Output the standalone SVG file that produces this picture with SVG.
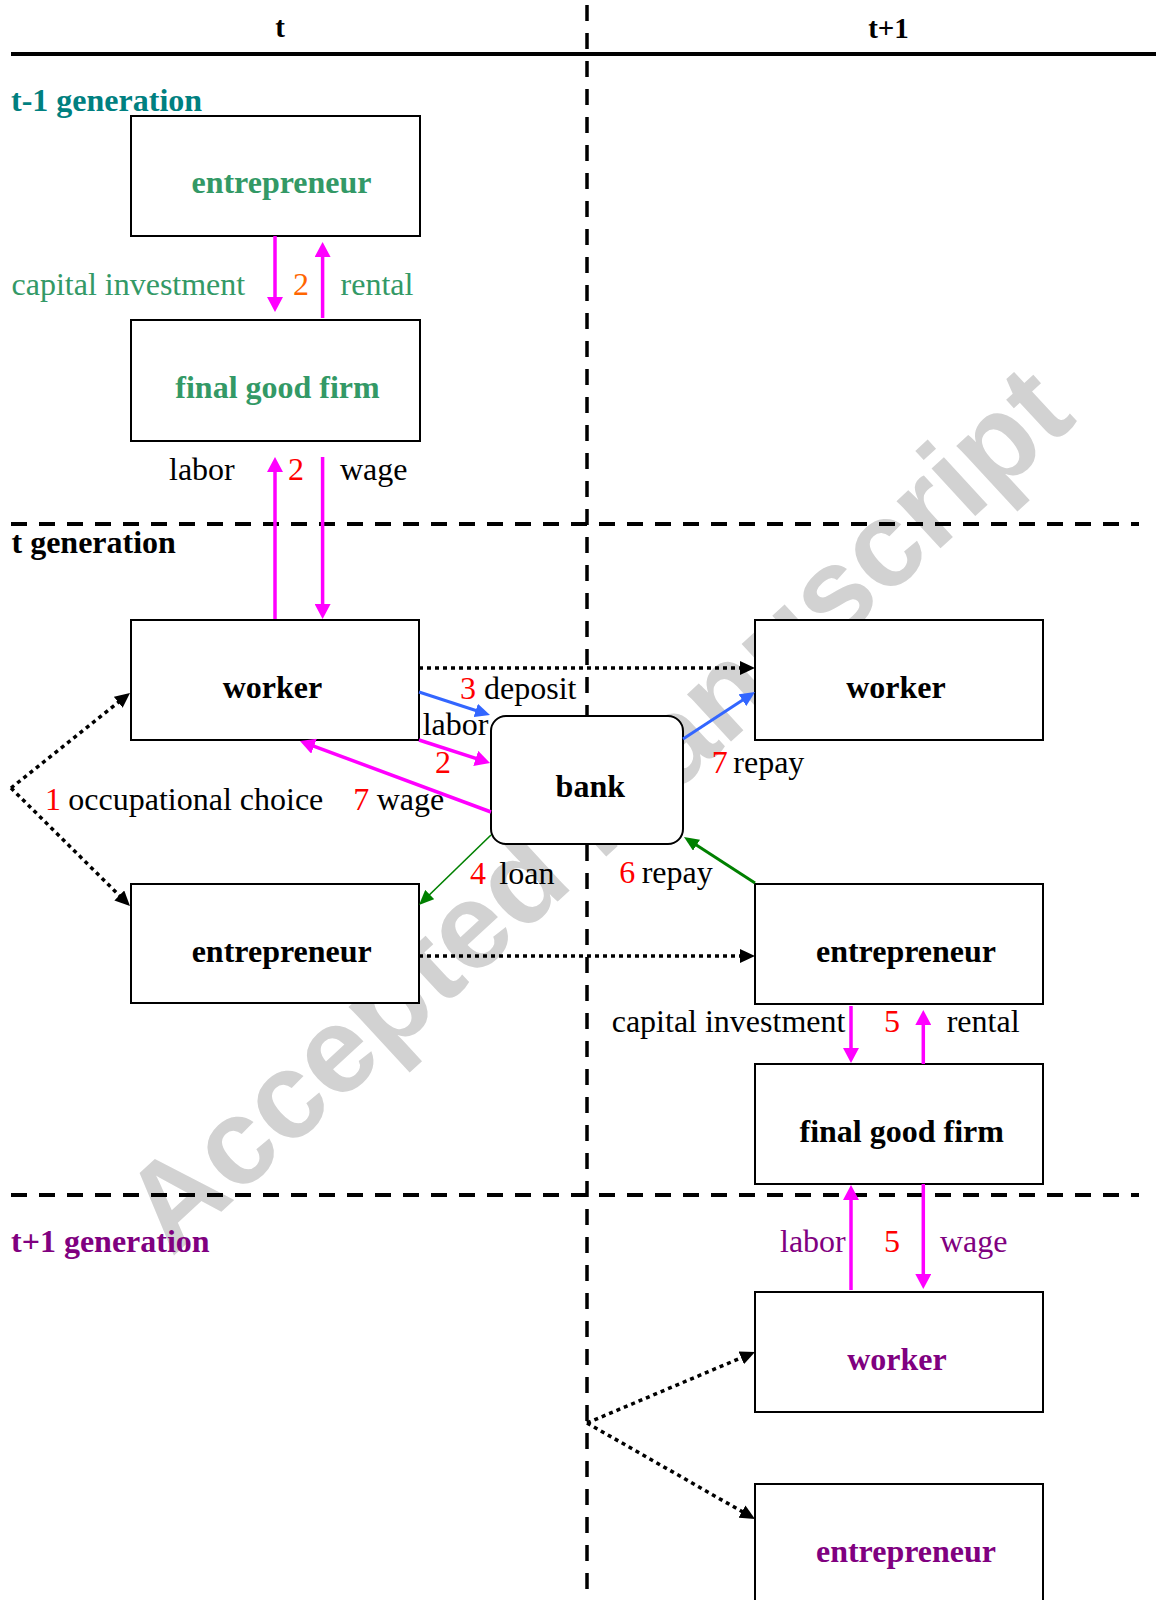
<svg xmlns="http://www.w3.org/2000/svg" width="1156" height="1600" viewBox="0 0 1156 1600">
<style>
text{font-family:"Liberation Serif","Times New Roman",serif;font-size:32px;fill:#000}
.b{font-weight:bold}
.m{text-anchor:middle}
.hdr{font-size:29px;font-weight:bold;text-anchor:middle}
.g{fill:#339966}
.teal{fill:#008080}
.pur{fill:#800080}
.red{fill:#ff0000}
.org{fill:#ff6600}
.box{fill:#fff;stroke:#000;stroke-width:2}
.dash{fill:none;stroke:#000;stroke-width:4;stroke-dasharray:16 12}
.vdash{fill:none;stroke:#000;stroke-width:3.5;stroke-dasharray:16 12}
.mag{fill:none;stroke:#ff00ff;stroke-width:3.5;marker-end:url(#am)}
.blu{fill:none;stroke:#3366ff;stroke-width:3;marker-end:url(#ab)}
.grn{fill:none;stroke:#008000;stroke-width:3;marker-end:url(#ag)}
.grnt{fill:none;stroke:#008000;stroke-width:1.6;marker-end:url(#ag)}
.dot{fill:none;stroke:#000;stroke-width:3.5;stroke-dasharray:4 4;marker-end:url(#ak)}
.wm{font-family:"Liberation Sans",Arial,sans-serif;font-weight:bold;font-size:122px;fill:#d2d2d2}
</style>
<defs>
<marker id="am" markerUnits="userSpaceOnUse" markerWidth="16" markerHeight="16" refX="9" refY="8" orient="auto"><path d="M0,0 L15,8 L0,16 z" fill="#ff00ff"/></marker>
<marker id="ab" markerUnits="userSpaceOnUse" markerWidth="16" markerHeight="14" refX="9" refY="7" orient="auto"><path d="M0,0 L15,7 L0,14 z" fill="#3366ff"/></marker>
<marker id="ag" markerUnits="userSpaceOnUse" markerWidth="16" markerHeight="13" refX="9" refY="6.5" orient="auto"><path d="M0,0 L15,6.5 L0,13 z" fill="#008000"/></marker>
<marker id="ak" markerUnits="userSpaceOnUse" markerWidth="16" markerHeight="14" refX="9" refY="7" orient="auto"><path d="M0,0 L15,7 L0,14 z" fill="#000"/></marker>
</defs>

<g id="watermark">
<text class="wm" transform="translate(171.8,1257.5) rotate(-42.7)">Accepted Manuscript</text>
</g>

<g id="grid">
<line x1="11" y1="54" x2="1156" y2="54" stroke="#000" stroke-width="4"/>
<line class="vdash" x1="587" y1="5" x2="587" y2="1592"/>
<line class="dash" x1="11" y1="524" x2="1139" y2="524"/>
<line class="dash" x1="11" y1="1195" x2="1139" y2="1195"/>
<text class="hdr" x="280" y="37">t</text>
<text class="hdr" x="888.5" y="37.7">t+1</text>
<text class="b teal" x="11" y="111">t-1 generation</text>
<text class="b" x="11.5" y="553">t generation</text>
<text class="b pur" x="11" y="1252">t+1 generation</text>
</g>

<g id="n-ent-tm1"><rect class="box" x="131" y="116" width="289" height="120"/><text class="b g m" x="281.5" y="193">entrepreneur</text></g>
<g id="n-firm-t"><rect class="box" x="131" y="320" width="289" height="121"/><text class="b g m" x="277.5" y="398">final good firm</text></g>
<g id="n-worker-t"><rect class="box" x="131" y="620" width="288" height="120"/><text class="b m" x="272.5" y="698">worker</text></g>
<g id="n-ent-t"><rect class="box" x="131" y="884" width="288" height="119"/><text class="b m" x="281.7" y="961.7">entrepreneur</text></g>
<g id="n-bank"><rect class="box" x="491" y="716" width="192" height="128" rx="15"/><text class="b m" x="590.3" y="796.7">bank</text></g>
<g id="n-worker-t1"><rect class="box" x="755" y="620" width="288" height="120"/><text class="b m" x="896" y="698">worker</text></g>
<g id="n-ent-t1"><rect class="box" x="755" y="884" width="288" height="120"/><text class="b m" x="906" y="961.7">entrepreneur</text></g>
<g id="n-firm-t1"><rect class="box" x="755" y="1064" width="288" height="120"/><text class="b m" x="901.7" y="1141.7">final good firm</text></g>
<g id="n-worker-t1gen"><rect class="box" x="755" y="1292" width="288" height="120"/><text class="b pur m" x="897" y="1370">worker</text></g>
<g id="n-ent-t1gen"><rect class="box" x="755" y="1484" width="288" height="130"/><text class="b pur m" x="906" y="1561.7">entrepreneur</text></g>

<g id="connectors">
<path class="mag" d="M275,236 L275,306"/>
<path class="mag" d="M322.6,318 L322.6,248"/>
<path class="mag" d="M275,619 L275,463"/>
<path class="mag" d="M322.6,457 L322.6,613"/>
<path class="blu" d="M419,692 L484.3,713.2"/>
<path class="mag" d="M419,740 L484.3,761.2"/>
<path class="mag" d="M491,812 L305.6,743.1"/>
<path class="blu" d="M683,739 L750,695.3"/>
<path class="grnt" d="M491,835 L423.3,900.8"/>
<path class="grn" d="M755,883 L689,840.3"/>
<path class="dot" d="M419,668 L749,668"/>
<path class="dot" d="M419,956 L749,956"/>
<path class="dot" d="M11,788 L125.3,696.7"/>
<path class="dot" d="M11,788 L125.7,901.8"/>
<path class="dot" d="M587,1423 L749.5,1354.3"/>
<path class="dot" d="M587,1423 L749.8,1516"/>
<path class="mag" d="M851,1006 L851,1057"/>
<path class="mag" d="M923.3,1064 L923.3,1016"/>
<path class="mag" d="M851,1290 L851,1191"/>
<path class="mag" d="M923.3,1184 L923.3,1283"/>
</g>

<g id="labels">
<text class="g" x="11.5" y="295">capital investment</text>
<text class="org" x="293" y="295">2</text>
<text class="g" x="340.6" y="295">rental</text>
<text x="169" y="480">labor</text>
<text class="red" x="288" y="480">2</text>
<text x="340" y="480">wage</text>
<text x="460" y="699"><tspan class="red">3</tspan><tspan x="484">deposit</tspan></text>
<text x="422.7" y="735">labor</text>
<text class="red" x="435" y="772.7">2</text>
<text x="45" y="810"><tspan class="red">1</tspan><tspan x="68.3">occupational choice</tspan></text>
<text x="353.3" y="810"><tspan class="red">7</tspan><tspan x="376.7">wage</tspan></text>
<text x="711.7" y="773.3"><tspan class="red">7</tspan><tspan x="733.3">repay</tspan></text>
<text x="470" y="884"><tspan class="red">4</tspan><tspan x="499.3">loan</tspan></text>
<text x="619.3" y="883.3"><tspan class="red">6</tspan><tspan x="641.7">repay</tspan></text>
<text x="611.7" y="1031.7">capital investment</text>
<text class="red" x="884" y="1031.7">5</text>
<text x="946.7" y="1031.7">rental</text>
<text class="pur" x="780" y="1251.7">labor</text>
<text class="red" x="884" y="1251.7">5</text>
<text class="pur" x="940" y="1251.7">wage</text>
</g>
</svg>
